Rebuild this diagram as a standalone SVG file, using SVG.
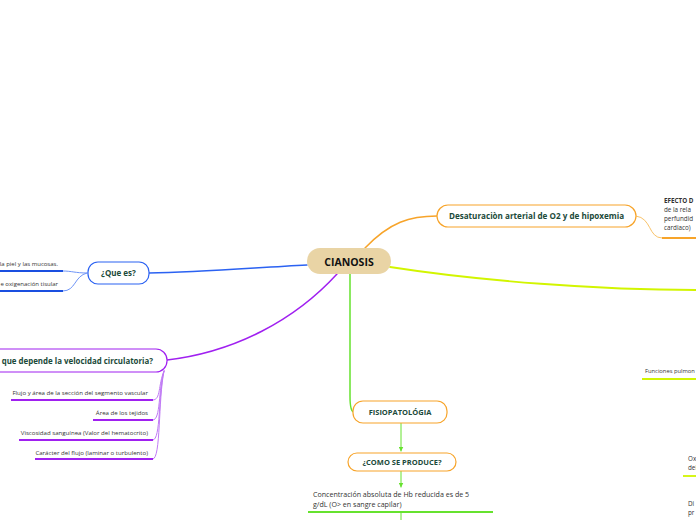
<svg xmlns="http://www.w3.org/2000/svg" width="696" height="520" viewBox="0 0 696 520">
<style>
.lbl{font-family:"Open Sans","Noto Sans","Liberation Sans",sans-serif;font-weight:bold;fill:#1b4a3a}
.sm{font-family:"Open Sans","Noto Sans","Liberation Sans",sans-serif;fill:#333}
.con{fill:none;stroke-linecap:round}
</style>
<defs>
<marker id="ag" viewBox="0 0 10 10" refX="9" refY="5" markerWidth="5" markerHeight="5" orient="auto">
<path d="M0,0 L10,5 L0,10 z" fill="#66e22e"/>
</marker>
</defs>
<rect width="696" height="520" fill="#fff"/>
<g id="connectors">
<path class="con" d="M307,265 C250,268 200,272 149,273" stroke="#2b62f2" stroke-width="1.5"/>
<path class="con" d="M87,273 C75,273 72,271 63,271" stroke="#6f95f7" stroke-width="1"/>
<path class="con" d="M87,273 C74,276 76,291 63,291" stroke="#6f95f7" stroke-width="1"/>
<path class="con" d="M337,274 C295,320 235,352 167,360" stroke="#a020f0" stroke-width="1.5"/>
<path class="con" d="M164,371 C158,385 161,400 153,400" stroke="#c07af5" stroke-width="1"/>
<path class="con" d="M164,371 C158,390 161,420 153,420" stroke="#c07af5" stroke-width="1"/>
<path class="con" d="M164,371 C158,395 161,440 153,440" stroke="#c07af5" stroke-width="1"/>
<path class="con" d="M164,371 C158,400 161,459 153,459" stroke="#c07af5" stroke-width="1"/>
<path class="con" d="M365,248 C390,222 410,216 437,216" stroke="#f7a42a" stroke-width="1.5"/>
<path class="con" d="M636,216 C652,218 648,238 662,238" stroke="#f9c36a" stroke-width="1"/>
<path class="con" d="M390,267 C480,281 600,290 696,290" stroke="#d2f500" stroke-width="1.8"/>
<path class="con" d="M350,274 L350,396 Q350,412 354,412" stroke="#66e22e" stroke-width="1.5"/>
<path class="con" d="M401,423 L401,451" stroke="#66e22e" stroke-width="1" marker-end="url(#ag)"/>
<path class="con" d="M401,471 L401,487" stroke="#66e22e" stroke-width="1" marker-end="url(#ag)"/>
<path class="con" d="M401,512 L401,520" stroke="#66e22e" stroke-width="1"/>
</g>
<g id="cianosis">
<rect x="307" y="248" width="84" height="26" rx="13" fill="#e9d4a5"/>
<text x="349" y="265.5" text-anchor="middle" font-family="Open Sans, Noto Sans, Liberation Sans, sans-serif" font-weight="bold" font-size="10.5" fill="#111">CIANOSIS</text>
</g>
<g id="quees">
<rect x="88" y="262" width="61" height="22" rx="10" fill="#fff" stroke="#2b62f2" stroke-width="1.2"/>
<text class="lbl" x="118.5" y="276" text-anchor="middle" font-size="8">¿Que es?</text>
</g>
<g id="quees-1">
<text class="sm" x="58" y="266" text-anchor="end" font-size="6">la piel y las mucosas.</text>
<line x1="0" y1="271" x2="63" y2="271" stroke="#1a4fe0" stroke-width="1.8"/>
</g>
<g id="quees-2">
<text class="sm" x="58" y="286" text-anchor="end" font-size="6">e oxigenación tisular</text>
<line x1="0" y1="291" x2="63" y2="291" stroke="#1a4fe0" stroke-width="1.8"/>
</g>
<g id="velocidad">
<rect x="-20" y="349" width="187" height="23" rx="11" fill="#fff" stroke="#a020f0" stroke-width="1.2"/>
<text class="lbl" x="153" y="363.5" text-anchor="end" font-size="7.9">que depende la velocidad circulatoria?</text>
</g>
<g id="vel-1">
<text class="sm" x="148" y="395" text-anchor="end" font-size="6.1">Flujo y área de la sección del segmento vascular</text>
<line x1="11" y1="400" x2="153" y2="400" stroke="#a020f0" stroke-width="1.8"/>
</g>
<g id="vel-2">
<text class="sm" x="148" y="415" text-anchor="end" font-size="6.1">Área de los tejidos</text>
<line x1="93" y1="420" x2="153" y2="420" stroke="#a020f0" stroke-width="1.8"/>
</g>
<g id="vel-3">
<text class="sm" x="148" y="435" text-anchor="end" font-size="6.1">Viscosidad sanguínea (Valor del hematocrito)</text>
<line x1="19" y1="440" x2="153" y2="440" stroke="#a020f0" stroke-width="1.8"/>
</g>
<g id="vel-4">
<text class="sm" x="148" y="454.5" text-anchor="end" font-size="6.1">Carácter del flujo (laminar o turbulento)</text>
<line x1="35" y1="459" x2="153" y2="459" stroke="#a020f0" stroke-width="1.8"/>
</g>
<g id="desaturacion">
<rect x="437" y="205" width="199" height="22" rx="11" fill="#fff" stroke="#f7a42a" stroke-width="1.2"/>
<text class="lbl" x="536.5" y="219" text-anchor="middle" font-size="8.1">Desaturaciòn arterial de O2 y de hipoxemia</text>
</g>
<g id="efecto">
<text class="sm" x="664" y="203" font-size="6.3" font-weight="bold" fill="#111">EFECTO D</text>
<text class="sm" x="664" y="212" font-size="6.3">de la rela</text>
<text class="sm" x="664" y="221" font-size="6.3">perfundid</text>
<text class="sm" x="664" y="230" font-size="6.3">cardiaco)</text>
<line x1="662" y1="238" x2="696" y2="238" stroke="#f7a42a" stroke-width="1.8"/>
</g>
<g id="funciones">
<text class="sm" x="645" y="373" font-size="5.8">Funciones pulmon</text>
<line x1="642" y1="379" x2="696" y2="379" stroke="#d2f500" stroke-width="1.8"/>
</g>
<g id="ox">
<text class="sm" x="688" y="461" font-size="6.3">Ox</text>
<text class="sm" x="688" y="470" font-size="6.3">del</text>
<line x1="683" y1="476" x2="696" y2="476" stroke="#d2f500" stroke-width="1.8"/>
</g>
<g id="di">
<text class="sm" x="688" y="506" font-size="6.3">Di</text>
<text class="sm" x="688" y="515" font-size="6.3">pr</text>
</g>
<g id="fisiopatologia">
<rect x="353" y="401" width="94" height="22" rx="10" fill="#fff" stroke="#f7a42a" stroke-width="1.2"/>
<text class="lbl" x="400" y="415" text-anchor="middle" font-size="7.5">FISIOPATOLÓGIA</text>
</g>
<g id="comose">
<rect x="348" y="453" width="108" height="18" rx="9" fill="#fff" stroke="#f7a42a" stroke-width="1.2"/>
<text class="lbl" x="402" y="465" text-anchor="middle" font-size="7.5">¿COMO SE PRODUCE?</text>
</g>
<g id="concentracion">
<text class="sm" x="313" y="497" font-size="7.1">Concentración absoluta de Hb reducida es de 5</text>
<text class="sm" x="313" y="507" font-size="7.1">g/dL (O&gt; en sangre capilar)</text>
<line x1="308" y1="512" x2="493" y2="512" stroke="#66e22e" stroke-width="1.8"/>
</g>
</svg>
